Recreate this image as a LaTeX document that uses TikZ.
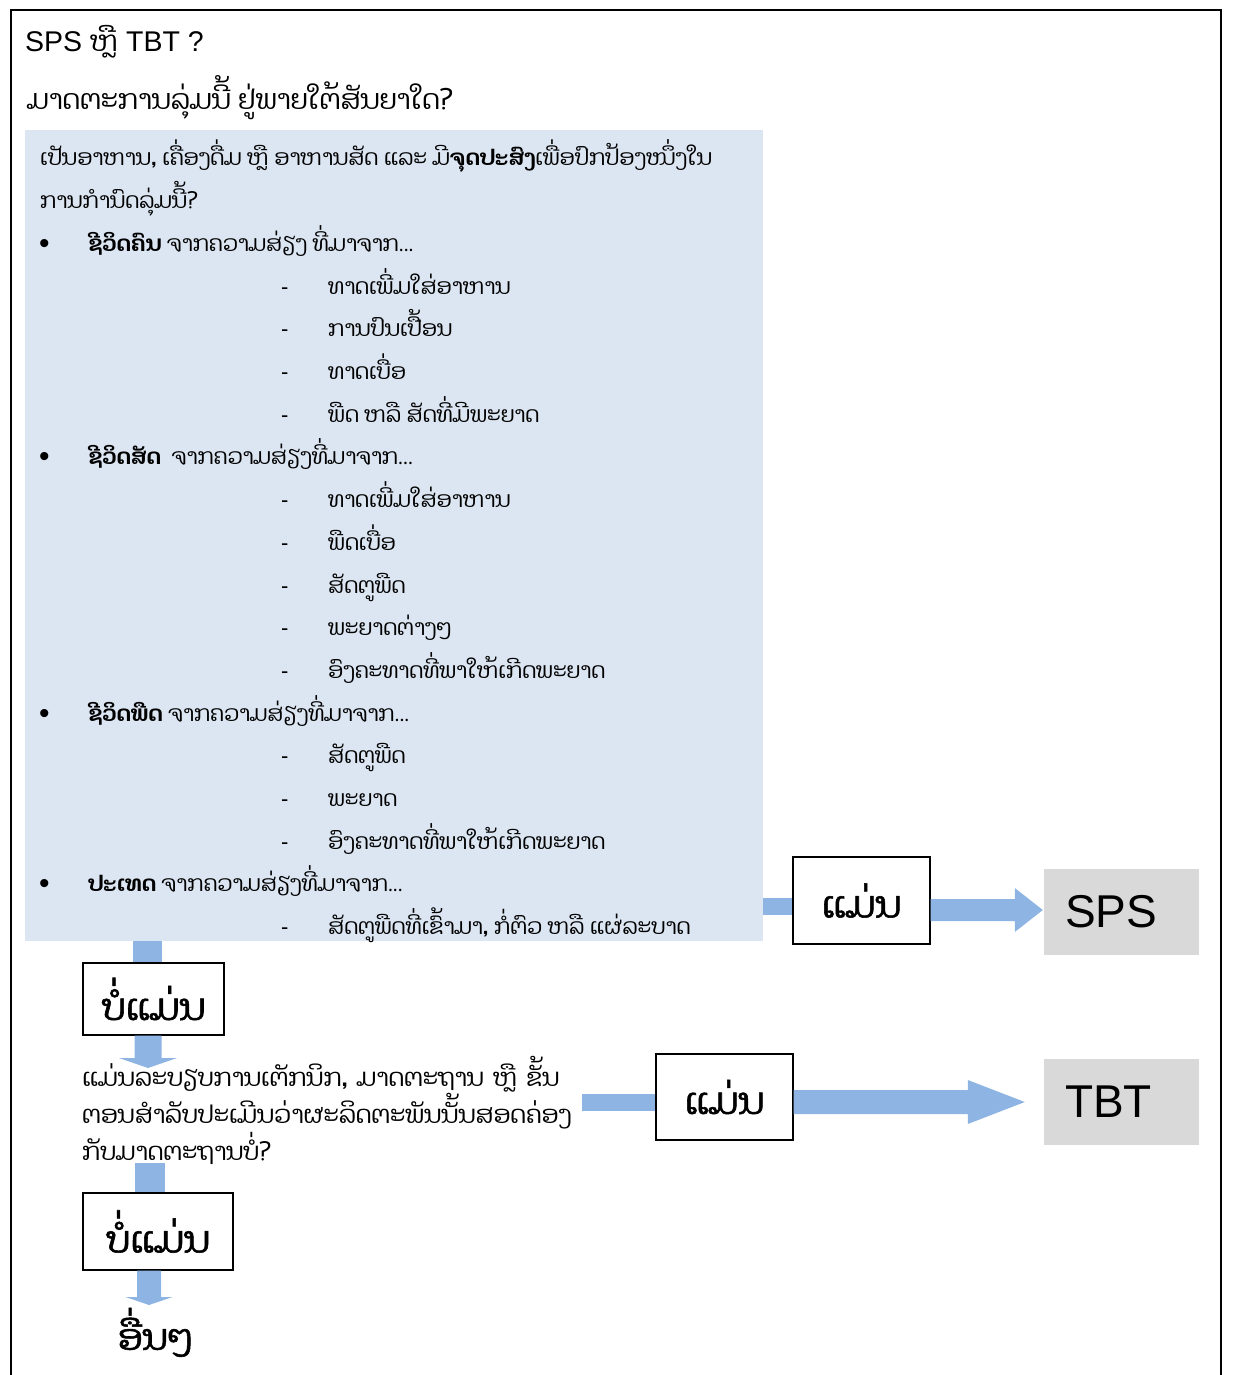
\documentclass[tikz,border=0pt]{standalone}
\usepackage{fontspec}
\setmainfont{Liberation Sans}
\newfontfamily\lao[Script=Lao]{Dhyana}
\newfontfamily\laoheavy[Script=Lao,FakeBold=1.5]{Dhyana}
\usetikzlibrary{calc}
\definecolor{boxblue}{HTML}{DCE6F2}
\definecolor{arrowblue}{HTML}{8EB4E3}
\definecolor{boxgray}{HTML}{D9D9D9}
\newcommand\myRArrow[5]{%
  \fill[arrowblue] let \p1=(#1), \p2=(#2) in
  (\x1,\y2+#3) -- (\x2-#5,\y2+#3) -- (\x2-#5,\y2+#4) -- (\x2,\y2) --
  (\x2-#5,\y2-#4) -- (\x2-#5,\y2-#3) -- (\x1,\y2-#3) -- cycle;}
\newcommand\myDArrow[5]{%
  \fill[arrowblue] let \p1=(#1), \p2=(#2) in
  (\x2-#3,\y1) -- (\x2-#3,\y2+#5) -- (\x2-#4,\y2+#5) -- (\x2,\y2) --
  (\x2+#4,\y2+#5) -- (\x2+#3,\y2+#5) -- (\x2+#3,\y1) -- cycle;}
\begin{document}
\begin{tikzpicture}[x=1pt,y=-1pt,
  title/.style={anchor=base west, inner sep=0pt, font=\fontsize{28.5}{32}\selectfont},
  laotitle/.style={anchor=base west, inner sep=0pt, font=\lao\fontsize{27.5}{32}\selectfont},
  body/.style={anchor=base west, inner sep=0pt, font=\lao\fontsize{22}{26}\selectfont},
  qtext/.style={anchor=base west, inner sep=0pt, font=\lao\fontsize{24.6}{29}\selectfont},
  bul/.style={anchor=base west, inner sep=0pt, font=\fontsize{22}{26}\selectfont},
  bigbul/.style={anchor=base west, inner sep=0pt, font=\fontsize{30}{32}\selectfont},
  ansbox/.style={draw, line width=1.3pt, fill=white, inner sep=0pt, font=\laoheavy\fontsize{37}{42}\selectfont},
  resbox/.style={fill=boxgray, inner xsep=21pt, inner ysep=0pt, text width=113pt, align=left, font=\fontsize{46}{50}\selectfont},
  bar/.style={draw=arrowblue},
]
\useasboundingbox (0,0) rectangle (1232,1375);
\draw[line width=1.6pt] (11,1380) -- (11,10) -- (1221,10) -- (1221,1380);

\node[title] (t1) at (25,52) {SPS {\lao ຫຼື} TBT ?};
\node[laotitle] (t2) at (27,110) {ມາດຕະການລຸ່ມນີ້ ຢູ່ພາຍໃຕ້ສັນຍາໃດ?};

\node[fill=boxblue, inner sep=0pt, minimum width=738pt, minimum height=811pt] (bluebox) at (394,535.5) {};

\def\bl{166}
\def\ls{42.7}
\node[body] (l0) at (40,\bl) {ເປັນອາຫານ, ເຄື່ອງດື່ມ ຫຼື ອາຫານສັດ ແລະ ມີ{\bfseries ຈຸດປະສົງ}ເພື່ອປົກປ້ອງໜຶ່ງໃນ};
\node[body] (l1) at (40,\bl+\ls) {ການກຳນົດລຸ່ມນີ້?};
\node[bigbul] (b2) at (39,\bl+2*\ls+2) {•};
\node[body] (l2) at (88,\bl+2*\ls) {{\bfseries ຊີວິດຄົນ} ຈາກຄວາມສ່ຽງ ທີ່ມາຈາກ...};
\node[bul] (d3) at (281,\bl+3*\ls) {-};
\node[body] (l3) at (328,\bl+3*\ls) {ທາດເພີ່ມໃສ່ອາຫານ};
\node[bul] (d4) at (281,\bl+4*\ls) {-};
\node[body] (l4) at (328,\bl+4*\ls) {ການປົນເປື້ອນ};
\node[bul] (d5) at (281,\bl+5*\ls) {-};
\node[body] (l5) at (328,\bl+5*\ls) {ທາດເບື່ອ};
\node[bul] (d6) at (281,\bl+6*\ls) {-};
\node[body] (l6) at (328,\bl+6*\ls) {ພືດ ຫລື ສັດທີ່ມີພະຍາດ};
\node[bigbul] (b7) at (39,\bl+7*\ls+2) {•};
\node[body] (l7) at (88,\bl+7*\ls) {{\bfseries ຊີວິດສັດ}\ \ ຈາກຄວາມສ່ຽງທີ່ມາຈາກ...};
\node[bul] (d8) at (281,\bl+8*\ls) {-};
\node[body] (l8) at (328,\bl+8*\ls) {ທາດເພີ່ມໃສ່ອາຫານ};
\node[bul] (d9) at (281,\bl+9*\ls) {-};
\node[body] (l9) at (328,\bl+9*\ls) {ພືດເບື່ອ};
\node[bul] (d10) at (281,\bl+10*\ls) {-};
\node[body] (l10) at (328,\bl+10*\ls) {ສັດຕູພືດ};
\node[bul] (d11) at (281,\bl+11*\ls) {-};
\node[body] (l11) at (328,\bl+11*\ls) {ພະຍາດຕ່າງໆ};
\node[bul] (d12) at (281,\bl+12*\ls) {-};
\node[body] (l12) at (328,\bl+12*\ls) {ອົງຄະທາດທີ່ພາໃຫ້ເກີດພະຍາດ};
\node[bigbul] (b13) at (39,\bl+13*\ls+2) {•};
\node[body] (l13) at (88,\bl+13*\ls) {{\bfseries ຊີວິດພືດ} ຈາກຄວາມສ່ຽງທີ່ມາຈາກ...};
\node[bul] (d14) at (281,\bl+14*\ls) {-};
\node[body] (l14) at (328,\bl+14*\ls) {ສັດຕູພືດ};
\node[bul] (d15) at (281,\bl+15*\ls) {-};
\node[body] (l15) at (328,\bl+15*\ls) {ພະຍາດ};
\node[bul] (d16) at (281,\bl+16*\ls) {-};
\node[body] (l16) at (328,\bl+16*\ls) {ອົງຄະທາດທີ່ພາໃຫ້ເກີດພະຍາດ};
\node[bigbul] (b17) at (39,\bl+17*\ls+2) {•};
\node[body] (l17) at (88,\bl+17*\ls) {{\bfseries ປະເທດ} ຈາກຄວາມສ່ຽງທີ່ມາຈາກ...};
\node[bul] (d18) at (281,\bl+18*\ls) {-};
\node[body] (l18) at (328,\bl+18*\ls) {ສັດຕູພືດທີ່ເຂົ້າມາ, ກໍ່ຕົວ ຫລື ແຜ່ລະບາດ};

% answer boxes
\node[ansbox, minimum width=137pt, minimum height=87pt] (yes1) at (861.5,900.5) {ແມ່ນ};
\node[resbox, minimum height=86pt] (sps) at (1121.5,912) {SPS};
\node[ansbox, minimum width=141pt, minimum height=72pt] (no1) at (153.5,999) {ບໍ່ແມ່ນ};

\node[qtext] (q2a) at (82,1086) {ແມ່ນລະບຽບການເຕັກນິກ,\hspace{9pt}ມາດຕະຖານ\hspace{9pt}ຫຼື\hspace{9pt}ຂັ້ນ};
\node[qtext] (q2b) at (82,1123) {ຕອນສຳລັບປະເມີນວ່າຜະລິດຕະພັນນັ້ນສອດຄ່ອງ};
\node[qtext] (q2c) at (82,1160) {ກັບມາດຕະຖານບໍ່?};

\node[ansbox, minimum width=137pt, minimum height=86pt] (yes2) at (724.5,1097) {ແມ່ນ};
\node[resbox, minimum height=86pt] (tbt) at (1121.5,1102) {TBT};
\node[ansbox, minimum width=150pt, minimum height=77pt] (no2) at (158,1231.5) {ບໍ່ແມ່ນ};
\node[anchor=base, inner sep=0pt, font=\laoheavy\fontsize{36}{42}\selectfont] (other) at (155,1350) {ອື່ນໆ};

% connectors
\coordinate (q2r) at (582,1102.5);
\coordinate (tip1) at (148,1068);
\coordinate (tip2) at (149,1305);
\coordinate (tbtTip) at ($(tbt.west)+(-19,0)$);
\coordinate (spsTip) at ($(sps.west)+(-1,-2)$);

\draw[bar, line width=17pt] (bluebox.east |- 0,906.5) -- (yes1.west |- 0,906.5);
\myRArrow{yes1.east}{spsTip}{11pt}{22pt}{28pt}
\draw[bar, line width=29pt] ([xshift=-6pt]no1.north |- bluebox.south) -- ([xshift=-6pt]no1.north);
\myDArrow{no1.south}{tip1}{13.5pt}{29pt}{10pt}
\draw[bar, line width=17pt] (q2r) -- (yes2.west |- q2r);
\myRArrow{yes2.east}{tbtTip}{12pt}{22pt}{57pt}
\draw[bar, line width=30pt] (150,1163) -- (no2.north -| 150,0) ++(0,-8);
\myDArrow{no2.south}{tip2}{12pt}{23.5pt}{8pt}
\end{tikzpicture}
\end{document}
